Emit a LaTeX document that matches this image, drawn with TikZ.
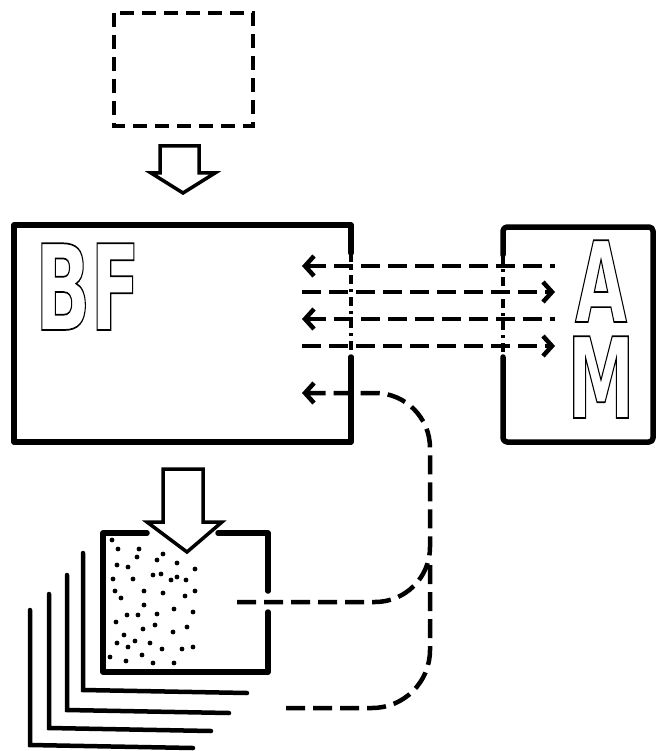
\documentclass[tikz,border=0pt]{standalone}
\usepackage{fontspec}
\setmainfont{Liberation Sans}
\newfontfamily\letterfont{DejaVu Sans}
\usetikzlibrary{arrows.meta}

\newcommand{\hollowtext}[1]{\special{pdf:literal direct 1 Tr 1.7 w}#1\special{pdf:literal direct 0 Tr}}

\tikzset{
	>={Straight Barb[length=9pt,width=20pt]},
	thickline/.style={black, line width=5.5pt, line join=round, line cap=round},
	srcline/.style={black, line width=4pt, dash pattern=on 14pt off 8pt},
	edgecross/.style={black, line width=4pt, dash pattern=on 9pt off 5pt on 3pt off 5pt},
	flow/.style={black, line width=4.5pt, dash pattern=on 19pt off 8pt},
	hollow/.style={black, line width=3.5pt, line join=miter, fill=white},
	stackline/.style={black, line width=4.5pt, line cap=round},
	letters/.style={inner sep=0pt, text depth=0pt},
}

\begin{document}
\begin{tikzpicture}[x=1pt, y=-1pt]
	\useasboundingbox (0,0) rectangle (661,751);
	\draw [srcline] (114,13) rectangle (253,126);
	\draw [hollow] (160,146) -- (199,146) -- (199,173) -- (215,173) -- (183,193) -- (151,173) -- (160,173) -- cycle;

	\draw [thickline] (351,253) -- (351,225) -- (14,225) -- (14,442) -- (351,442) -- (351,357);
	\draw [edgecross] (351,253) -- (351,357);
	\node [letters, text height=87pt, xscale=0.61, anchor=base west, font=\fontsize{119}{119}\letterfont\bfseries] (bftext) at (35,330) {\hollowtext{BF}};

	\draw [thickline, rounded corners=4pt] (503,255) -- (503,227) -- (653,227) -- (653,442) -- (503,442) -- (503,357);
	\draw [edgecross] (503,255) -- (503,357);
	\node [letters, align=center, xscale=0.6, anchor=base, font=\fontsize{112}{96}\letterfont\bfseries] (amtext) at (601,418) {\hollowtext{A}\\\hollowtext{M}};

	\foreach \i/\y in {1/266,2/292,3/319,4/346} {
		\coordinate (bf\i) at (302,\y);
		\coordinate (am\i) at (555,\y);
	}
	\draw [flow, <-] (bf1) -- (am1);
	\draw [flow, ->] (bf2) -- (am2);
	\draw [flow, <-] (bf3) -- (am3);
	\draw [flow, ->] (bf4) -- (am4);

	\foreach \x/\t/\b/\r in {83/553/690/247, 67/575/710/229, 49/594/728/211, 30/610/745/193}
		\draw [stackline] (\x,\t) -- (\x,\b) -- ({\r},{\b+3});
	\fill [white] (103,533) rectangle (268,672);
	\draw [thickline] (147,533) -- (103,533) -- (103,672) -- (268,672) -- (268,612);
	\draw [thickline] (268,591) -- (268,533) -- (218,533);
	\foreach \x/\y in {112/540,118/549,139/549,137/557,163/554,157/560,177/563,117/565,128/567,195/569,
		113/579,133/579,153/575,161/574,171/580,177/577,186/580,115/591,121/598,144/591,163/593,185/596,
		195/591,144/605,174/609,193/612,116/622,127/615,138/615,157/614,173/632,155/625,143/629,187/627,
		124/635,117/643,128/647,135/641,150/643,162/649,182/649,193/647,110/657,126/661,142/655,153/663,174/663}
		\fill [black] (\x,\y) circle (2.4pt);
	\draw [hollow] (163,469) -- (203,469) -- (203,522) -- (222,522) -- (187,552) -- (147,522) -- (163,522) -- cycle;

	\coordinate (docin) at (237,602);
	\coordinate (bf5) at (302,393);
	\coordinate (split) at (430,565);
	\coordinate (stackend) at (283,708);
	\draw [flow, ->, rounded corners=55pt] (docin) -- (430,602) -- (430,393) -- (bf5);
	\draw [flow, rounded corners=58pt] (split) -- (430,708) -- (stackend);
\end{tikzpicture}
\end{document}
